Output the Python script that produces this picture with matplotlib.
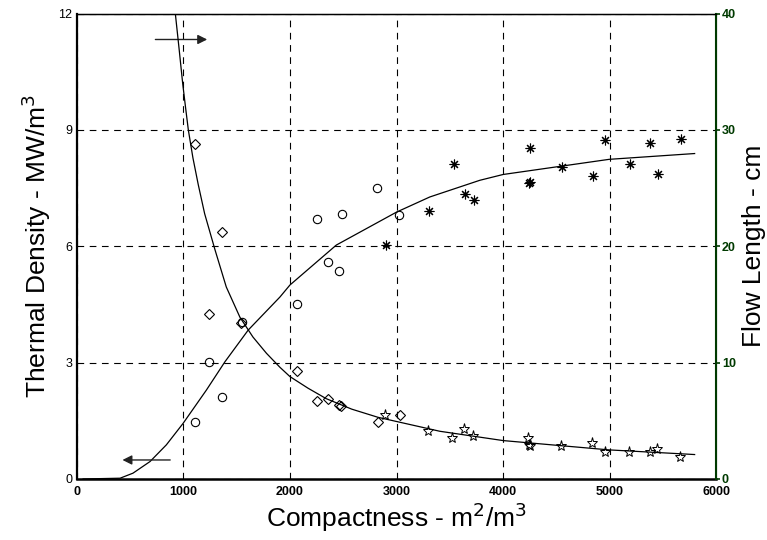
import matplotlib.pyplot as plt

plt.rcParams['font.family'] = ['Liberation Sans', 'DejaVu Sans']

# fitted curve, thermal density (left axis)
td_curve_x = [60, 407, 528, 688, 841, 997, 1216, 1390, 1609, 1906, 2000, 2435, 3000, 3312, 3781, 4000, 4993, 5796]
td_curve_y = [0, 0.02, 0.15, 0.45, 0.88, 1.43, 2.29, 3.02, 3.84, 4.69, 5.0, 6.03, 6.88, 7.27, 7.70, 7.85, 8.24, 8.39]

# fitted curve, flow length (right axis)
fl_curve_x = [925, 960, 994, 1020, 1047, 1090, 1140, 1200, 1297, 1403, 1531, 1653, 1780, 1906, 2000, 2170, 2341, 2580, 2826, 3406, 4000, 4993, 5796]
fl_curve_y = [40, 37.0, 34.0, 32.0, 30.0, 27.6, 25.3, 22.8, 19.7, 16.5, 13.9, 12.2, 10.8, 9.6, 8.8, 7.8, 6.9, 6.0, 5.3, 4.1, 3.3, 2.5, 2.1]

# thermal density measurements
circ_x = [1109, 1244, 1365, 1547, 2068, 2250, 2359, 2462, 2484, 2818, 3025]
circ_y = [1.48, 3.02, 2.12, 4.05, 4.50, 6.71, 5.60, 5.37, 6.82, 7.49, 6.80]
ast_x = [2900, 3303, 3537, 3640, 3725, 4250, 4250, 4240, 4553, 4844, 4956, 5187, 5378, 5453, 5665]
ast_y = [6.04, 6.91, 8.13, 7.34, 7.20, 8.52, 7.66, 7.62, 8.04, 7.81, 8.73, 8.13, 8.67, 7.85, 8.76]

# flow length measurements
dia_x = [1111, 1244, 1365, 1541, 2068, 2250, 2359, 2462, 2478, 2828, 3028]
dia_y = [28.8, 14.2, 21.2, 13.4, 9.3, 6.7, 6.9, 6.4, 6.3, 4.9, 5.5]
star_x = [2890, 3294, 3524, 3631, 3716, 4234, 4244, 4250, 4547, 4838, 4956, 5181, 5375, 5443, 5656]
star_y = [5.5, 4.1, 3.5, 4.3, 3.7, 3.5, 2.9, 2.8, 2.8, 3.1, 2.3, 2.3, 2.3, 2.6, 1.9]

green = '#003a00'

fig = plt.figure(figsize=(7.67, 5.40), dpi=100)
ax = fig.add_axes([0.1, 0.113, 0.834, 0.862])
ax2 = ax.twinx()

ax.plot(td_curve_x, td_curve_y, color='black', lw=0.9)
ax.plot(circ_x, circ_y, 'o', ms=6, mfc='none', mec='black', mew=0.8)
ax.plot(ast_x, ast_y, ls='none', marker=(8, 2, 0), ms=7, color='black', mew=0.8)

ax2.plot(fl_curve_x, fl_curve_y, color='black', lw=0.9)
ax2.plot(dia_x, dia_y, 'D', ms=5, mfc='none', mec='black', mew=0.8)
ax2.plot(star_x, star_y, '*', ms=8, mfc='none', mec='black', mew=0.7)

ax.set_xlim(0, 6000)
ax.set_ylim(0, 12)
ax2.set_ylim(0, 40)
ax.set_xticks([0, 1000, 2000, 3000, 4000, 5000, 6000])
ax.set_yticks([0, 3, 6, 9, 12])
ax2.set_yticks([0, 10, 20, 30, 40])

ax.grid(True, color='black', ls=(0, (6, 5)), lw=0.8)

ax.tick_params(axis='x', length=0, labelsize=9, pad=5)
ax.tick_params(axis='y', length=0, labelsize=9, pad=3)
for lab in ax.get_xticklabels():
    lab.set_fontweight('bold')
ax2.tick_params(axis='y', length=3, width=1.2, colors=green, labelsize=9, pad=1)
for lab in ax2.get_yticklabels():
    lab.set_fontweight('bold')

ax.spines['left'].set_linewidth(1.6)
ax.spines['bottom'].set_linewidth(1.8)
ax.spines['top'].set_linewidth(1.0)
ax2.spines['right'].set_color(green)
ax2.spines['right'].set_linewidth(1.5)
ax2.spines['left'].set_visible(False)
ax2.spines['bottom'].set_visible(False)

ax.set_xlabel('Compactness - m$^2$/m$^3$', fontsize=19, labelpad=2)
ax.set_ylabel('Thermal Density - MW/m$^3$', fontsize=19, labelpad=4)
ax2.set_ylabel('Flow Length - cm', fontsize=19, labelpad=4, rotation=90)

ax.annotate('', xy=(1250, 11.33), xytext=(712, 11.33),
            arrowprops=dict(arrowstyle='-|>', color='#222222', lw=1.0, mutation_scale=14))
ax.annotate('', xy=(403, 0.49), xytext=(903, 0.49),
            arrowprops=dict(arrowstyle='-|>', color='#222222', lw=1.0, mutation_scale=14))

fig.savefig('out.png', dpi=100)
